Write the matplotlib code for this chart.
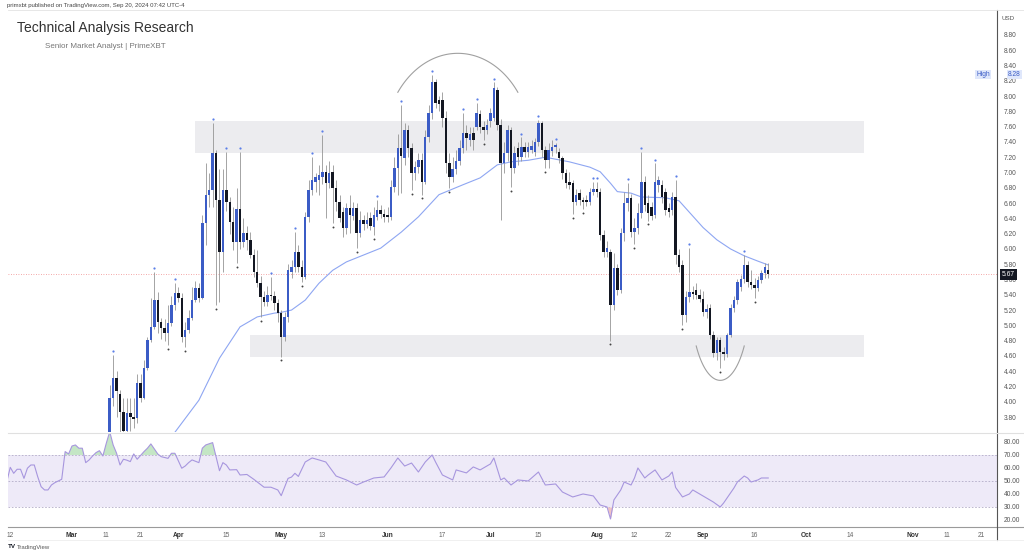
import numpy as np
import pandas as pd
import matplotlib
matplotlib.use("Agg")
import matplotlib.pyplot as plt
import matplotlib.dates as mdates

plt.rcParams["font.family"] = ["Liberation Sans", "DejaVu Sans"]

# ---------------------------------------------------------------
# daily candles, one per calendar day, starting at first_day
# ---------------------------------------------------------------
first_day = "2024-03-12"

opens = [
    # Mar 12-31
    3.50, 4.05, 4.31, 4.10, 3.87, 3.62, 3.85, 3.80, 3.79, 4.24,
    4.05, 4.44, 4.81, 4.98, 5.33, 5.04, 4.96, 4.90, 5.03, 5.27,
    # Apr
    5.42, 5.36, 4.85, 4.94, 5.09, 5.33, 5.49, 5.36, 6.34, 6.71,
    6.77, 7.26, 6.64, 5.96, 6.77, 6.61, 6.35, 6.09, 6.52, 6.09,
    6.21, 6.12, 5.92, 5.70, 5.55, 5.37, 5.31, 5.40, 5.38, 5.29,
    # May
    5.16, 4.85, 5.11, 5.70, 5.76, 5.96, 5.76, 5.63, 6.42, 6.77,
    6.88, 6.90, 6.94, 7.01, 6.86, 7.01, 6.80, 6.61, 6.48, 6.27,
    6.54, 6.43, 6.54, 6.21, 6.38, 6.32, 6.40, 6.29, 6.42, 6.51,
    6.46,
    # Jun
    6.45, 6.42, 6.81, 7.06, 7.32, 7.19, 7.56, 7.32, 6.99, 7.07,
    7.17, 6.88, 7.46, 7.78, 8.18, 7.95, 7.95, 7.71, 7.12, 6.94,
    7.05, 7.15, 7.32, 7.52, 7.42, 7.52, 7.60, 7.76, 7.60, 7.55,
    # Jul
    7.68, 7.72, 8.08, 7.62, 7.12, 7.25, 7.55, 7.06, 7.32, 7.20,
    7.34, 7.27, 7.30, 7.27, 7.40, 7.65, 7.30, 7.16, 7.28, 7.33,
    7.27, 7.19, 7.00, 6.88, 6.86, 6.61, 6.73, 6.64, 6.64, 6.61,
    6.75,
    # Aug
    6.78, 6.75, 6.18, 5.96, 5.96, 5.27, 5.75, 5.46, 6.21, 6.60,
    6.67, 6.22, 6.27, 6.47, 6.88, 6.60, 6.55, 6.44, 6.84, 6.84,
    6.75, 6.53, 6.51, 6.68, 5.92, 5.79, 5.13, 5.37, 5.44, 5.46,
    5.40,
    # Sep 1-20
    5.35, 5.17, 5.23, 4.87, 4.64, 4.81, 4.65, 4.62, 4.87, 5.23,
    5.33, 5.50, 5.60, 5.79, 5.57, 5.53, 5.49, 5.59, 5.68, 5.72,
]

highs = [
    4.22, 4.61, 4.40, 4.15, 4.05, 4.05, 4.05, 4.05, 4.36, 4.36,
    4.54, 4.85, 5.36, 5.70, 5.44, 5.10, 5.08, 5.27, 5.38, 5.55,
    5.50, 5.42, 5.05, 5.20, 5.50, 5.58, 5.55, 6.45, 7.12, 7.00,
    7.65, 7.30, 7.05, 7.05, 7.27, 6.68, 6.55, 6.80, 7.27, 6.40,
    6.30, 6.22, 6.00, 5.98, 5.64, 5.45, 5.52, 5.63, 5.45, 5.35,
    5.20, 5.18, 5.80, 5.85, 6.22, 6.05, 5.85, 6.48, 6.90, 7.20,
    7.00, 7.10, 7.49, 7.10, 7.15, 7.10, 6.90, 6.70, 6.55, 6.60,
    6.71, 6.62, 6.60, 6.50, 6.45, 6.48, 6.48, 6.55, 6.64, 6.58,
    6.52,
    6.55, 6.90, 7.20, 7.50, 7.88, 7.65, 7.62, 7.38, 7.15, 7.25,
    7.25, 7.55, 7.88, 8.28, 8.22, 8.00, 8.05, 7.80, 7.25, 7.20,
    7.30, 7.42, 7.78, 7.62, 7.60, 7.60, 7.91, 7.82, 7.68, 7.70,
    7.85, 8.18, 8.12, 7.70, 7.40, 7.62, 7.60, 7.35, 7.40, 7.46,
    7.40, 7.40, 7.42, 7.45, 7.69, 7.68, 7.35, 7.38, 7.42, 7.39,
    7.32, 7.22, 7.05, 7.01, 6.90, 6.78, 6.78, 6.68, 6.70, 6.80,
    6.88,
    6.88, 6.80, 6.25, 6.10, 6.00, 5.95, 5.80, 6.28, 6.75, 6.86,
    6.72, 6.40, 6.60, 7.27, 6.95, 6.70, 6.62, 7.12, 6.96, 6.90,
    6.80, 6.60, 6.75, 6.90, 6.00, 5.85, 5.45, 6.01, 5.52, 5.55,
    5.48,
    5.45, 5.28, 5.28, 4.92, 4.85, 4.85, 4.72, 4.90, 5.28, 5.38,
    5.60, 5.66, 5.92, 5.84, 5.72, 5.62, 5.65, 5.72, 5.81, 5.81,
]

lows = [
    3.45, 3.95, 3.80, 3.60, 3.55, 3.55, 3.62, 3.65, 3.72, 4.00,
    4.03, 4.41, 4.78, 4.95, 4.90, 4.82, 4.80, 4.74, 4.99, 5.20,
    5.30, 4.78, 4.72, 4.90, 5.07, 5.30, 5.30, 5.34, 6.05, 6.55,
    6.55, 5.27, 5.30, 5.70, 6.50, 6.20, 5.98, 5.82, 6.00, 6.02,
    5.98, 5.88, 5.63, 5.50, 5.11, 5.25, 5.25, 5.33, 5.20, 5.05,
    4.59, 4.80, 5.05, 5.62, 5.70, 5.70, 5.57, 5.60, 6.35, 6.70,
    6.75, 6.70, 6.85, 6.40, 6.80, 6.34, 6.50, 6.35, 6.15, 6.20,
    6.21, 6.38, 6.01, 6.15, 6.25, 6.28, 6.25, 6.18, 6.38, 6.40,
    6.35,
    6.35, 6.38, 6.75, 6.70, 6.73, 7.10, 7.20, 6.77, 6.90, 7.00,
    6.71, 6.85, 7.40, 7.70, 7.85, 7.80, 7.60, 7.00, 6.80, 6.88,
    6.98, 7.10, 7.25, 7.30, 7.35, 7.30, 7.55, 7.52, 7.42, 7.50,
    7.60, 7.68, 7.55, 6.38, 7.00, 7.15, 6.81, 7.00, 7.10, 7.15,
    7.20, 7.20, 7.25, 7.22, 7.35, 7.20, 7.06, 7.06, 7.22, 7.25,
    7.12, 6.92, 6.80, 6.78, 6.46, 6.58, 6.58, 6.52, 6.56, 6.58,
    6.70,
    6.68, 6.12, 5.90, 5.90, 4.80, 5.20, 5.40, 5.42, 6.10, 6.50,
    6.15, 6.06, 6.20, 6.40, 6.50, 6.37, 6.38, 6.40, 6.75, 6.60,
    6.45, 6.42, 6.45, 5.80, 5.70, 5.00, 5.05, 5.30, 5.35, 5.35,
    5.30,
    5.12, 5.10, 4.82, 4.58, 4.55, 4.44, 4.55, 4.58, 4.85, 5.18,
    5.28, 5.45, 5.55, 5.50, 5.48, 5.36, 5.45, 5.55, 5.62, 5.62,
]

closes = [
    4.05, 4.31, 4.14, 3.87, 3.62, 3.85, 3.80, 3.78, 4.24, 4.05,
    4.44, 4.81, 4.98, 5.33, 5.04, 4.96, 4.90, 5.03, 5.27, 5.42,
    5.36, 4.85, 4.94, 5.09, 5.33, 5.49, 5.36, 6.34, 6.71, 6.77,
    7.26, 6.64, 5.96, 6.77, 6.61, 6.35, 6.09, 6.52, 6.09, 6.21,
    6.12, 5.92, 5.70, 5.55, 5.37, 5.31, 5.40, 5.38, 5.29, 5.16,
    4.85, 5.11, 5.72, 5.76, 5.96, 5.76, 5.63, 6.42, 6.77, 6.90,
    6.94, 6.97, 7.01, 6.86, 6.99, 6.80, 6.61, 6.40, 6.27, 6.54,
    6.45, 6.54, 6.21, 6.38, 6.32, 6.38, 6.30, 6.44, 6.51, 6.46,
    6.42,
    6.42, 6.81, 7.06, 7.32, 7.22, 7.56, 7.32, 7.00, 7.07, 7.17,
    6.88, 7.46, 7.78, 8.18, 7.91, 7.90, 7.71, 7.12, 6.94, 7.05,
    7.15, 7.32, 7.52, 7.45, 7.50, 7.42, 7.78, 7.60, 7.55, 7.62,
    7.78, 8.10, 7.62, 7.12, 7.25, 7.55, 7.06, 7.26, 7.20, 7.34,
    7.27, 7.33, 7.35, 7.40, 7.65, 7.30, 7.16, 7.30, 7.33, 7.36,
    7.19, 7.00, 6.86, 6.84, 6.61, 6.70, 6.64, 6.62, 6.62, 6.75,
    6.78,
    6.75, 6.18, 5.96, 6.01, 5.27, 5.75, 5.46, 6.21, 6.60, 6.67,
    6.22, 6.27, 6.47, 6.88, 6.57, 6.47, 6.43, 6.88, 6.90, 6.68,
    6.51, 6.48, 6.68, 5.92, 5.76, 5.13, 5.37, 5.44, 5.41, 5.40,
    5.35,
    5.17, 5.22, 4.87, 4.64, 4.81, 4.65, 4.62, 4.87, 5.23, 5.33,
    5.57, 5.60, 5.79, 5.57, 5.53, 5.49, 5.59, 5.68, 5.76, 5.67,
]

# moving average
ma_days = ["2024-03-31", "2024-04-07", "2024-04-13", "2024-04-19", "2024-04-24",
           "2024-04-29", "2024-05-01", "2024-05-04", "2024-05-08", "2024-05-12",
           "2024-05-16", "2024-05-20", "2024-05-25", "2024-05-30", "2024-06-05",
           "2024-06-10", "2024-06-16", "2024-06-23", "2024-06-28", "2024-07-03",
           "2024-07-07", "2024-07-12", "2024-07-17", "2024-07-24", "2024-07-30",
           "2024-08-02", "2024-08-05", "2024-08-07", "2024-08-11", "2024-08-14",
           "2024-08-21", "2024-08-25", "2024-08-28", "2024-09-01", "2024-09-05",
           "2024-09-09", "2024-09-13", "2024-09-17", "2024-09-20"]
ma_values = [3.60, 4.02, 4.57, 4.98, 5.11, 5.16, 5.17, 5.20, 5.33, 5.55,
             5.72, 5.83, 5.92, 6.01, 6.22, 6.42, 6.71, 6.84, 6.93, 7.10,
             7.14, 7.16, 7.20, 7.14, 7.07, 7.01, 6.86, 6.75, 6.73, 6.68,
             6.67, 6.63, 6.48, 6.28, 6.12, 6.00, 5.91, 5.84, 5.79]

# RSI
rsi_days = ["2024-02-11", "2024-02-12", "2024-02-13", "2024-02-14", "2024-02-15",
            "2024-02-16", "2024-02-17", "2024-02-18", "2024-02-19", "2024-02-20",
            "2024-02-21", "2024-02-22", "2024-02-23", "2024-02-24", "2024-02-25",
            "2024-02-27", "2024-02-28", "2024-02-29", "2024-03-01",
            "2024-03-02", "2024-03-03", "2024-03-04", "2024-03-05", "2024-03-06",
            "2024-03-07", "2024-03-08", "2024-03-09", "2024-03-10", "2024-03-11",
            "2024-03-12", "2024-03-13", "2024-03-14", "2024-03-15", "2024-03-16",
            "2024-03-17", "2024-03-18", "2024-03-19", "2024-03-20", "2024-03-22",
            "2024-03-23", "2024-03-24", "2024-03-26", "2024-03-27", "2024-03-29",
            "2024-03-30", "2024-03-31", "2024-04-02", "2024-04-03", "2024-04-04",
            "2024-04-05", "2024-04-07", "2024-04-08", "2024-04-09", "2024-04-11",
            "2024-04-13", "2024-04-14", "2024-04-15", "2024-04-16", "2024-04-18",
            "2024-04-19", "2024-04-21", "2024-04-23", "2024-04-26", "2024-04-28",
            "2024-04-30", "2024-05-01", "2024-05-03", "2024-05-04", "2024-05-05",
            "2024-05-06", "2024-05-08", "2024-05-10", "2024-05-12", "2024-05-14",
            "2024-05-17", "2024-05-20", "2024-05-23", "2024-05-25", "2024-05-28",
            "2024-05-31", "2024-06-02", "2024-06-04", "2024-06-06", "2024-06-08",
            "2024-06-10", "2024-06-12", "2024-06-14", "2024-06-15", "2024-06-17",
            "2024-06-20", "2024-06-21", "2024-06-24", "2024-06-26", "2024-06-28",
            "2024-07-01", "2024-07-02", "2024-07-04", "2024-07-05", "2024-07-07",
            "2024-07-09", "2024-07-12", "2024-07-15", "2024-07-17", "2024-07-20",
            "2024-07-22", "2024-07-25", "2024-07-28", "2024-07-31", "2024-08-02",
            "2024-08-04", "2024-08-05", "2024-08-06", "2024-08-08", "2024-08-09",
            "2024-08-11", "2024-08-12", "2024-08-13", "2024-08-15", "2024-08-16",
            "2024-08-18", "2024-08-20", "2024-08-22", "2024-08-23", "2024-08-24",
            "2024-08-26", "2024-08-28", "2024-08-29", "2024-08-31", "2024-09-02",
            "2024-09-04", "2024-09-06", "2024-09-07", "2024-09-08", "2024-09-10",
            "2024-09-11", "2024-09-13", "2024-09-14", "2024-09-15", "2024-09-17",
            "2024-09-18", "2024-09-20"]
rsi_values = [49.5, 60.5, 55.9, 59.0, 59.0, 52.0, 59.8, 62.3, 62.3, 53.3,
              45.6, 43.1, 43.1, 46.9, 48.7, 51.3, 72.6, 70.8, 76.9, 77.7,
              75.2, 75.2, 64.1, 66.2, 69.2, 71.8, 73.3, 69.2, 79.0, 87.9,
              77.7, 71.3, 62.3, 66.7, 66.0, 64.9, 70.8, 66.7, 72.6, 75.2,
              78.5, 70.8, 68.7, 67.4, 71.3, 71.3, 59.8, 61.5, 64.1, 66.2,
              64.1, 75.2, 77.7, 79.5, 57.9, 64.1, 62.3, 58.5, 58.7, 54.6,
              55.0, 51.3, 45.2, 45.2, 43.1, 38.7, 52.0, 53.0, 55.9, 53.5,
              64.6, 67.7, 66.2, 64.6, 53.8, 50.8, 46.9, 49.2, 52.3, 53.1,
              60.0, 67.7, 61.5, 63.8, 56.9, 64.6, 70.0, 64.6, 54.6, 50.8,
              58.5, 56.2, 60.8, 58.5, 63.1, 67.7, 50.8, 52.3, 46.9, 50.8,
              50.0, 56.9, 46.9, 47.7, 41.5, 37.7, 40.0, 38.5, 31.5, 30.0,
              20.8, 35.4, 43.1, 49.2, 46.9, 52.3, 60.0, 52.3, 54.6, 58.5,
              50.8, 53.8, 56.9, 45.0, 37.7, 40.0, 43.1, 40.0, 36.9, 33.8,
              30.0, 33.1, 36.9, 44.6, 49.2, 53.8, 52.3, 49.2, 50.8, 52.3,
              52.3]

# swing markers
high_marks = ["2024-03-13", "2024-03-25", "2024-03-31", "2024-04-11", "2024-04-15",
              "2024-04-19", "2024-04-28", "2024-05-05", "2024-05-10", "2024-05-13",
              "2024-05-29", "2024-06-05", "2024-06-14", "2024-06-23", "2024-06-27",
              "2024-07-02", "2024-07-10", "2024-07-15", "2024-07-20", "2024-07-31",
              "2024-08-01", "2024-08-10", "2024-08-14", "2024-08-18", "2024-08-24",
              "2024-08-28", "2024-09-13"]
low_marks = ["2024-03-29", "2024-04-03", "2024-04-12", "2024-04-18", "2024-04-25",
             "2024-05-01", "2024-05-07", "2024-05-16", "2024-05-23", "2024-05-28",
             "2024-06-08", "2024-06-11", "2024-06-19", "2024-06-29", "2024-07-07",
             "2024-07-17", "2024-07-25", "2024-07-28", "2024-08-05", "2024-08-12",
             "2024-08-16", "2024-08-26", "2024-09-06", "2024-09-16"]

# zones (supply / demand)
zone_start = ["2024-04-06", "2024-04-22"]
zone_end = ["2024-10-18", "2024-10-18"]
zone_low = [7.26, 4.59]
zone_high = [7.67, 4.87]

last_price = 5.67
high_price = 8.28

tick_dates = ["2024-02-12", "2024-03-01", "2024-03-11", "2024-03-21", "2024-04-01",
              "2024-04-15", "2024-05-01", "2024-05-13", "2024-06-01", "2024-06-17",
              "2024-07-01", "2024-07-15", "2024-08-01", "2024-08-12", "2024-08-22",
              "2024-09-01", "2024-09-16", "2024-10-01", "2024-10-14", "2024-11-01",
              "2024-11-11", "2024-11-21"]
tick_labels = ["12", "Mar", "11", "21", "Apr", "15", "May", "13", "Jun", "17",
               "Jul", "15", "Aug", "12", "22", "Sep", "16", "Oct", "14", "Nov",
               "11", "21"]
month_names = {"Mar", "Apr", "May", "Jun", "Jul", "Aug", "Sep", "Oct", "Nov"}


def dnum(days):
    return mdates.date2num(pd.to_datetime(days))


# ---------------------------------------------------------------
W, H = 1024, 554
fig = plt.figure(figsize=(W / 100, H / 100), dpi=100)
fig.patch.set_facecolor("white")

left, right = 8 / W, 997 / W
ax = fig.add_axes([left, 1 - 432 / H, right - left, 422 / H])
ax_rsi = fig.add_axes([left, 1 - 527 / H, right - left, 94 / H], sharex=ax)

candle_days = pd.date_range(first_day, periods=len(opens), freq="D")
x = dnum(candle_days)
o = np.array(opens)
c = np.array(closes)
up = c >= o
body_col = np.where(up, "#3b5cc6", "#131722")

ax.vlines(x, lows, highs, color="#959595", lw=0.6, zorder=2)
heights = np.where(np.abs(c - o) < 0.015, 0.015, c - o)
ax.bar(x, heights, bottom=o, width=0.72, color=body_col, lw=0, zorder=3)

ax.plot(dnum(ma_days), ma_values, color="#8ea6f2", lw=0.8, zorder=1.5)

for s, e, lo, hi in zip(zone_start, zone_end, zone_low, zone_high):
    xs, xe = dnum([s, e])
    ax.fill_between([xs, xe], lo, hi, color="#ececef", lw=0, zorder=0.5)

day_index = {d: i for i, d in enumerate(candle_days.strftime("%Y-%m-%d"))}
hi_idx = [day_index[d] for d in high_marks]
lo_idx = [day_index[d] for d in low_marks]
ax.plot(x[hi_idx], np.array(highs)[hi_idx] + 0.05, "o", ms=1.6, color="#5b7fe8", mew=0, zorder=4)
ax.plot(x[lo_idx], np.array(lows)[lo_idx] - 0.05, "o", ms=1.4, color="#444444", mew=0, zorder=4)


# arcs drawn by the analyst
def arc(ax, d0, d1, base, peak):
    x0, x1 = dnum([d0, d1])
    t0 = 0.2 * np.pi
    t = np.linspace(t0, np.pi - t0, 80)
    a = (x1 - x0) / 2 / np.cos(t0)
    b = (peak - base) / (1 - np.sin(t0))
    yc = peak - b
    ax.plot((x0 + x1) / 2 - a * np.cos(t), yc + b * np.sin(t), color="#a0a0a0", lw=0.8, zorder=1)


arc(ax, "2024-06-04", "2024-07-09", 8.05, 8.56)
arc(ax, "2024-08-30", "2024-09-13", 4.73, 4.28)

ax.axhline(last_price, color="#f08a8a", lw=0.6, ls=(0, (1, 2)), zorder=1)

ax.set_ylim(3.604, 9.127)
ax.set_xlim(dnum(["2024-03-01"])[0] - 18.66, dnum(["2024-03-01"])[0] + 269.7)
ax.set_yticks(np.arange(3.8, 8.81, 0.2))
ax.yaxis.tick_right()
ax.yaxis.set_major_formatter(matplotlib.ticker.FormatStrFormatter("%.2f"))
ax.tick_params(axis="y", length=0, pad=5, labelsize=4.8, labelcolor="#555555")
ax.tick_params(axis="x", bottom=False, labelbottom=False)
for sp in ["left", "bottom", "top"]:
    ax.spines[sp].set_visible(False)
ax.spines["right"].set_color("#555555")
ax.spines["right"].set_linewidth(0.8)

# axis labels on the price scale
ax.text(1.011, high_price, "%.2f" % high_price, transform=ax.get_yaxis_transform(),
        fontsize=4.8, color="#3b5cc6", va="center", ha="left",
        bbox=dict(boxstyle="square,pad=0.15", fc="#dfe7fb", ec="none"))
ax.text(0.993, high_price, "High", transform=ax.get_yaxis_transform(),
        fontsize=4.8, color="#3b5cc6", va="center", ha="right",
        bbox=dict(boxstyle="square,pad=0.15", fc="#dfe7fb", ec="none"))
ax.text(1.005, last_price, "%.2f" % last_price, transform=ax.get_yaxis_transform(),
        fontsize=4.8, color="white", va="center", ha="left",
        bbox=dict(boxstyle="square,pad=0.3", fc="#131722", ec="none"), zorder=5)

# RSI pane
rx = dnum(rsi_days)
rv = np.array(rsi_values)
ax_rsi.axhspan(30, 70, color="#eeeaf8", lw=0, zorder=0)
for lvl in (70, 50, 30):
    ax_rsi.axhline(lvl, color="#b3acc8", lw=0.6, ls=(0, (2, 2)), zorder=1)
ax_rsi.fill_between(rx, rv, 70, where=rv > 70, interpolate=True, color="#c4e6c5", lw=0, zorder=1)
ax_rsi.fill_between(rx, rv, 30, where=rv < 30, interpolate=True, color="#f2c4c4", lw=0, zorder=1)
ax_rsi.plot(rx, rv, color="#a796de", lw=0.8, zorder=2)
ax_rsi.set_ylim(14.6, 86.9)
ax_rsi.set_yticks(np.arange(20, 81, 10))
ax_rsi.yaxis.tick_right()
ax_rsi.yaxis.set_major_formatter(matplotlib.ticker.FormatStrFormatter("%.2f"))
ax_rsi.tick_params(axis="y", length=0, pad=5, labelsize=4.8, labelcolor="#555555")
ax_rsi.set_xticks(dnum(tick_dates))
ax_rsi.set_xticklabels(tick_labels)
ax_rsi.tick_params(axis="x", length=0, pad=3.5, labelsize=4.8, labelcolor="#666666")
for lab in ax_rsi.get_xticklabels():
    if lab.get_text() in month_names:
        lab.set_fontweight("bold")
        lab.set_color("#333333")
for sp in ["left", "top"]:
    ax_rsi.spines[sp].set_visible(False)
ax_rsi.spines["right"].set_color("#555555")
ax_rsi.spines["right"].set_linewidth(0.8)
ax_rsi.spines["bottom"].set_color("#9a9a9a")
ax_rsi.spines["bottom"].set_linewidth(0.8)

# frame lines outside the axes
fig.add_artist(plt.Line2D([left, 1], [1 - 10 / H, 1 - 10 / H], color="#e3e3e3", lw=0.6))
fig.add_artist(plt.Line2D([left, 1], [1 - 432.5 / H, 1 - 432.5 / H], color="#e0e0e0", lw=0.8))
fig.add_artist(plt.Line2D([right, 1], [1 - 527 / H, 1 - 527 / H], color="#9a9a9a", lw=0.8))
fig.add_artist(plt.Line2D([right, right], [1 - 540 / H, 1 - 527 / H], color="#555555", lw=0.8))
fig.add_artist(plt.Line2D([left, 1], [1 - 540 / H, 1 - 540 / H], color="#eeeeee", lw=0.6))

# texts
fig.text(7 / W, 1 - 6 / H, "primxbt published on TradingView.com, Sep 20, 2024 07:42 UTC-4",
         fontsize=4.3, color="#444444", va="center", ha="left")
fig.text(17 / W, 1 - 28 / H, "Technical Analysis Research", fontsize=10,
         color="#333333", va="center", ha="left")
fig.text(45 / W, 1 - 47 / H, "Senior Market Analyst | PrimeXBT", fontsize=5.75,
         color="#777777", va="center", ha="left")
fig.text(1008 / W, 1 - 18 / H, "USD", fontsize=4.5, color="#555555", va="center", ha="center")
fig.text(8 / W, 1 - 547 / H, "TV", fontsize=4.5, color="#131722", fontweight="bold",
         va="center", ha="left")
fig.text(17 / W, 1 - 547 / H, "TradingView", fontsize=4.3, color="#555555",
         va="center", ha="left")

fig.savefig("out.png", dpi=100, facecolor="white")
